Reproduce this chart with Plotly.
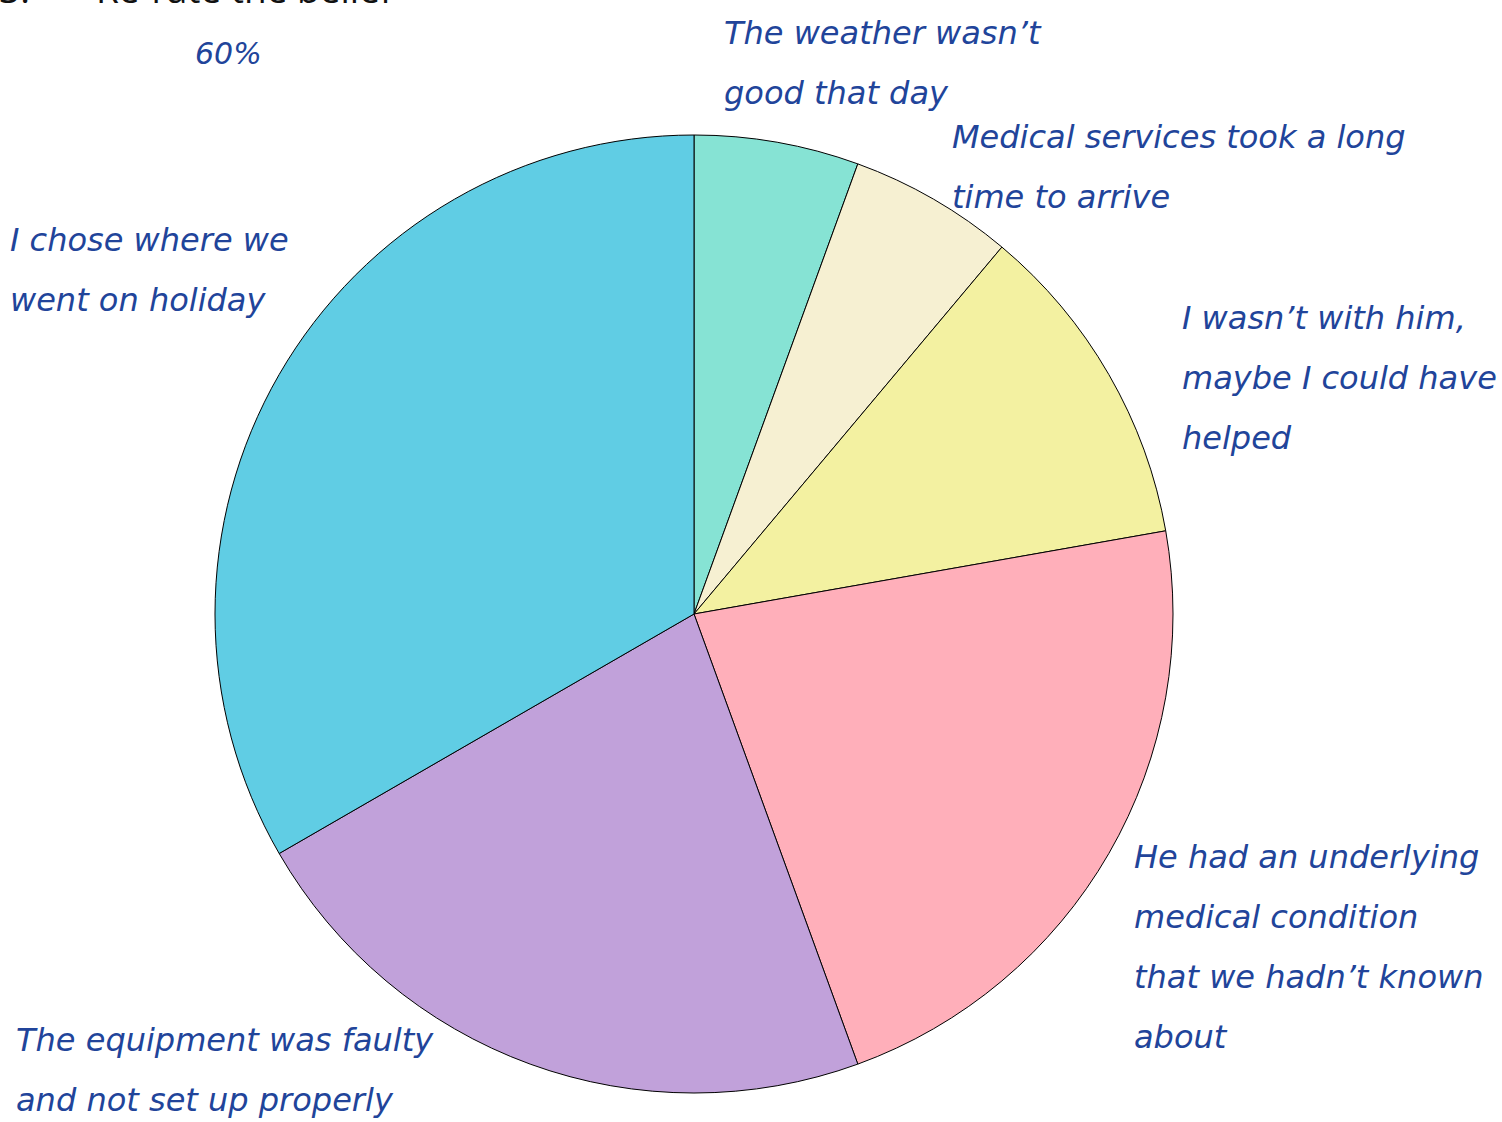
import plotly.graph_objects as go

# ---- data ----
labels = [
    "The weather wasn’t<br>good that day",
    "Medical services took a long<br>time to arrive",
    "I wasn’t with him,<br>maybe I could have<br>helped",
    "He had an underlying<br>medical condition<br>that we hadn’t known<br>about",
    "The equipment was faulty<br>and not set up properly",
    "I chose where we<br>went on holiday",
]
values = [5, 5, 10, 20, 20, 30]
colors = ["#86E3D4", "#F6F0D2", "#F3F1A1", "#FFAFBA", "#C1A1DA", "#60CDE4"]
rating = "60%"
heading_num = "3."
heading_text = "Re-rate the belief"

# label anchor positions (pixels: left x, first-line centre y)
label_pos = [(722, 33), (950, 137), (1180, 318), (1132, 857), (14, 1040), (8, 240)]

W, H = 1502, 1122
LINE = 60
TXT = "#21449A"

def px(x):
    return x / W

def py(y):
    return 1 - y / H

cx, cy, r = 694, 614, 479

fig = go.Figure(go.Pie(
    labels=[l.replace("<br>", " ") for l in labels],
    values=values,
    sort=False,
    direction="clockwise",
    rotation=0,
    textinfo="none",
    hoverinfo="label+percent",
    marker=dict(colors=colors, line=dict(color="#000000", width=1)),
    domain=dict(x=[px(cx - r), px(cx + r)], y=[py(cy + r), py(cy - r)]),
    showlegend=False,
))

ann = []
hand = dict(family="DejaVu Sans", size=32, color=TXT, style="italic")
for lab, (x, y) in zip(labels, label_pos):
    for i, line in enumerate(lab.split("<br>")):
        ann.append(dict(x=px(x), y=py(y + i * LINE), xref="paper", yref="paper",
                        text=line, showarrow=False, xanchor="left", yanchor="middle",
                        font=hand))
ann.append(dict(x=px(228), y=py(53), xref="paper", yref="paper", text=rating,
                showarrow=False, xanchor="center", yanchor="middle",
                font=dict(family="DejaVu Sans", size=30, color=TXT, style="italic")))
head = dict(family="Open Sans", size=37, color="#111111")
ann.append(dict(x=px(-3), y=py(16), xref="paper", yref="paper", text=heading_num,
                showarrow=False, xanchor="left", yanchor="bottom", font=head))
ann.append(dict(x=px(94), y=py(16), xref="paper", yref="paper", text=heading_text,
                showarrow=False, xanchor="left", yanchor="bottom", font=head))

fig.update_layout(
    width=W, height=H,
    margin=dict(l=0, r=0, t=0, b=0),
    paper_bgcolor="white", plot_bgcolor="white",
    annotations=ann,
)
fig.write_html("out.html", config={"displayModeBar": False},
               post_script="document.body.style.margin='0';")
